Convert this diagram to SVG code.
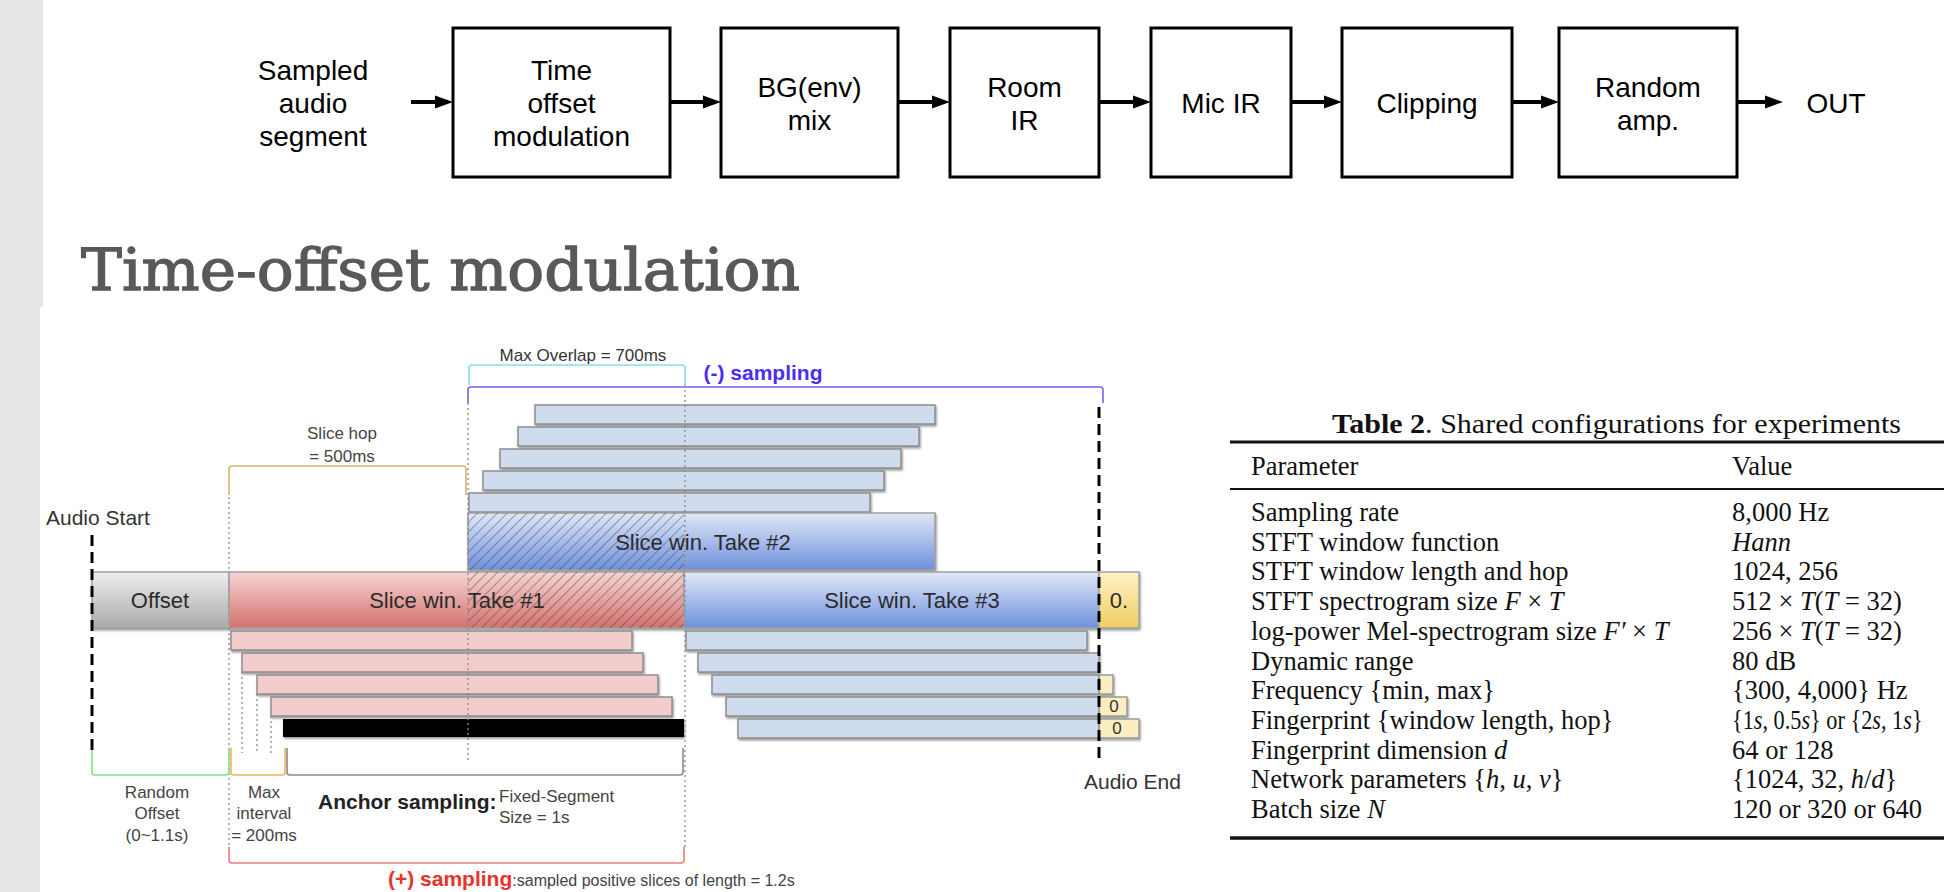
<svg xmlns="http://www.w3.org/2000/svg" width="1944" height="892" viewBox="0 0 1944 892">
  <style>
    .flow-box { fill: #fff; stroke: #000; stroke-width: 3; }
    .flow-txt { font-family: "Liberation Sans", Arial, sans-serif; font-size: 28px; fill: #000; text-anchor: middle; }
    .conn { stroke: #000; stroke-width: 4; fill: none; }
    .lbl { font-family: "Liberation Sans", Arial, sans-serif; fill: #333; }
    .bar-lbl { font-size: 22px; text-anchor: middle; fill: #2b2b2b; }
    .small { font-size: 17px; fill: #444; }
    .mid { text-anchor: middle; }
    .brk { fill: none; stroke-width: 1.6; }
    .dot { stroke: #8a8a8a; stroke-width: 1.3; stroke-dasharray: 2 3; fill: none; }
    .dash { stroke: #000; stroke-width: 3; stroke-dasharray: 11 6; fill: none; }
    .pink { fill: #f2cbcb; stroke: #8e8e8e; stroke-width: 1.5; }
    .lblue { fill: #cfdcee; stroke: #8e8e8e; stroke-width: 1.5; }
    .yel { fill: #fbeec0; stroke: #9a9a9a; stroke-width: 1.5; }
    .big { stroke: #a0a0a0; stroke-width: 1.5; }
    .tbl { font-family: "Liberation Serif", "Times New Roman", serif; font-size: 26.5px; fill: #111; }
    .it { font-style: italic; }
    .rule { stroke: #111; }
  </style>
  <defs>
    <marker id="arrowhead" markerUnits="userSpaceOnUse" markerWidth="18" markerHeight="14" refX="10" refY="7" orient="auto">
      <path d="M0,0.5 L18,7 L0,13.5 z" fill="#000"/>
    </marker>
    <linearGradient id="gOffset" x1="0" y1="0" x2="0" y2="1">
      <stop offset="0" stop-color="#efefef"/>
      <stop offset="1" stop-color="#a9a9a9"/>
    </linearGradient>
    <linearGradient id="gRed" x1="0" y1="0" x2="0" y2="1">
      <stop offset="0" stop-color="#f5d5d4"/>
      <stop offset="1" stop-color="#d4716e"/>
    </linearGradient>
    <linearGradient id="gBlue" x1="0" y1="0" x2="0" y2="1">
      <stop offset="0" stop-color="#e0e8f8"/>
      <stop offset="1" stop-color="#6e90dc"/>
    </linearGradient>
    <linearGradient id="gYel" x1="0" y1="0" x2="0" y2="1">
      <stop offset="0" stop-color="#fdf3c6"/>
      <stop offset="1" stop-color="#f1cd62"/>
    </linearGradient>
    <pattern id="hatch" patternUnits="userSpaceOnUse" width="7" height="7" patternTransform="rotate(45)">
      <line x1="0" y1="0" x2="0" y2="7" stroke="#3a3a3a" stroke-opacity="0.55" stroke-width="1.6"/>
    </pattern>
    <filter id="shadow" x="-5%" y="-30%" width="110%" height="170%">
      <feDropShadow dx="1" dy="1.8" stdDeviation="1" flood-color="#555" flood-opacity="0.6"/>
    </filter>
  </defs>

  <!-- page background and side strip -->
  <rect x="0" y="0" width="1944" height="892" fill="#fff"/>
  <rect x="0" y="0" width="43" height="307" fill="#e6e6e6"/>
  <rect x="0" y="307" width="40" height="585" fill="#e6e6e6"/>

  <!-- augmentation pipeline -->
  <g id="node-input">
    <text class="flow-txt" x="313" y="80">Sampled</text>
    <text class="flow-txt" x="313" y="113">audio</text>
    <text class="flow-txt" x="313" y="146">segment</text>
  </g>
  <g id="node-time-offset">
    <rect class="flow-box" x="453" y="28" width="217" height="149"/>
    <text class="flow-txt" x="561.5" y="80">Time</text>
    <text class="flow-txt" x="561.5" y="113">offset</text>
    <text class="flow-txt" x="561.5" y="146">modulation</text>
  </g>
  <g id="node-bg-mix">
    <rect class="flow-box" x="721" y="28" width="177" height="149"/>
    <text class="flow-txt" x="809.5" y="97">BG(env)</text>
    <text class="flow-txt" x="809.5" y="130">mix</text>
  </g>
  <g id="node-room-ir">
    <rect class="flow-box" x="950" y="28" width="149" height="149"/>
    <text class="flow-txt" x="1024.5" y="97">Room</text>
    <text class="flow-txt" x="1024.5" y="130">IR</text>
  </g>
  <g id="node-mic-ir">
    <rect class="flow-box" x="1151" y="28" width="140" height="149"/>
    <text class="flow-txt" x="1221" y="113">Mic IR</text>
  </g>
  <g id="node-clipping">
    <rect class="flow-box" x="1342" y="28" width="170" height="149"/>
    <text class="flow-txt" x="1427" y="113">Clipping</text>
  </g>
  <g id="node-random-amp">
    <rect class="flow-box" x="1559" y="28" width="178" height="149"/>
    <text class="flow-txt" x="1648" y="97">Random</text>
    <text class="flow-txt" x="1648" y="130">amp.</text>
  </g>
  <g id="node-out">
    <text class="flow-txt" x="1836" y="113">OUT</text>
  </g>
  <g id="connectors">
    <line class="conn" x1="411" y1="102" x2="445" y2="102" marker-end="url(#arrowhead)"/>
    <line class="conn" x1="670" y1="102" x2="713" y2="102" marker-end="url(#arrowhead)"/>
    <line class="conn" x1="898" y1="102" x2="942" y2="102" marker-end="url(#arrowhead)"/>
    <line class="conn" x1="1099" y1="102" x2="1143" y2="102" marker-end="url(#arrowhead)"/>
    <line class="conn" x1="1291" y1="102" x2="1334" y2="102" marker-end="url(#arrowhead)"/>
    <line class="conn" x1="1512" y1="102" x2="1551" y2="102" marker-end="url(#arrowhead)"/>
    <line class="conn" x1="1737" y1="102" x2="1775" y2="102" marker-end="url(#arrowhead)"/>
  </g>

  <!-- section heading -->
  <text x="81" y="290" font-family="'DejaVu Serif', 'Liberation Serif', serif" font-size="58" fill="#595959" stroke="#595959" stroke-width="1.3" textLength="719" lengthAdjust="spacingAndGlyphs">Time-offset modulation</text>

  <!-- time-offset sampling sketch -->
  <g id="offset-sketch">
    <!-- brackets above -->
    <path class="brk" stroke="#86e0ee" d="M469,385 L469,368 Q469,365 472,365 L682,365 Q685,365 685,368 L685,385"/>
    <path class="brk" stroke="#7462f0" stroke-width="2" d="M468,403 L468,390 Q468,387 471,387 L1100,387 Q1103,387 1103,390 L1103,403"/>
    <path class="brk" stroke="#d9b56c" d="M229,495 L229,469 Q229,466 232,466 L463,466 Q466,466 466,469 L466,495"/>
    <text class="lbl small mid" x="583" y="361" style="fill:#333">Max Overlap = 700ms</text>
    <text class="lbl mid" x="763" y="380" font-size="21" font-weight="bold" style="fill:#4a2ff0">(-) sampling</text>
    <text class="lbl small mid" x="342" y="439">Slice hop</text>
    <text class="lbl small mid" x="342" y="462">= 500ms</text>

    <!-- negative candidates above take #2 -->
    <g filter="url(#shadow)">
      <rect class="lblue" x="535" y="405" width="400" height="19"/>
      <rect class="lblue" x="518" y="427" width="401" height="19"/>
      <rect class="lblue" x="500" y="449" width="401" height="19"/>
      <rect class="lblue" x="483" y="471" width="401" height="19"/>
      <rect class="lblue" x="469" y="493" width="401" height="19"/>
    </g>

    <!-- slice windows -->
    <g filter="url(#shadow)">
      <rect class="big" x="468" y="513" width="467" height="57" fill="url(#gBlue)"/>
      <rect class="big" x="92" y="572" width="137" height="56" fill="url(#gOffset)"/>
      <rect class="big" x="229" y="572" width="455" height="56" fill="url(#gRed)"/>
      <rect class="big" x="684" y="572" width="415" height="56" fill="url(#gBlue)"/>
      <rect class="big" x="1099" y="572" width="40" height="56" fill="url(#gYel)"/>
    </g>
    <rect x="468" y="513" width="216" height="57" fill="url(#hatch)"/>
    <rect x="468" y="572" width="216" height="56" fill="url(#hatch)"/>
    <text class="lbl bar-lbl" x="160" y="608">Offset</text>
    <text class="lbl bar-lbl" x="457" y="608">Slice win. Take #1</text>
    <text class="lbl bar-lbl" x="703" y="550">Slice win. Take #2</text>
    <text class="lbl bar-lbl" x="912" y="608">Slice win. Take #3</text>
    <text class="lbl bar-lbl" x="1119" y="608">0.</text>

    <!-- positive candidates below take #1 -->
    <g filter="url(#shadow)">
      <rect class="pink" x="231" y="631" width="401" height="19"/>
      <rect class="pink" x="242" y="653" width="401" height="19"/>
      <rect class="pink" x="257" y="675" width="401" height="19"/>
      <rect class="pink" x="271" y="697" width="401" height="19"/>
      <rect x="283" y="719" width="401" height="18" fill="#000"/>
    </g>

    <!-- candidates below take #3 -->
    <g filter="url(#shadow)">
      <rect class="lblue" x="686" y="631" width="401" height="19"/>
      <rect class="lblue" x="698" y="653" width="401" height="19"/>
      <rect class="yel" x="1099" y="675" width="14" height="19"/>
      <rect class="lblue" x="712" y="675" width="387" height="19"/>
      <rect class="yel" x="1099" y="697" width="28" height="19"/>
      <rect class="lblue" x="726" y="697" width="373" height="19"/>
      <rect class="yel" x="1099" y="719" width="40" height="19"/>
      <rect class="lblue" x="738" y="719" width="361" height="19"/>
    </g>
    <text class="lbl small mid" x="1114" y="712" style="fill:#333">0</text>
    <text class="lbl small mid" x="1117" y="734" style="fill:#333">0</text>

    <!-- guides -->
    <line class="dot" x1="229" y1="497" x2="229" y2="572"/>
    <line class="dot" x1="229" y1="628" x2="229" y2="847"/>
    <line class="dot" x1="468" y1="388" x2="468" y2="760"/>
    <line class="dot" x1="685" y1="385" x2="685" y2="850"/>
    <line class="dot" x1="242" y1="672" x2="242" y2="753"/>
    <line class="dot" x1="257" y1="694" x2="257" y2="753"/>
    <line class="dot" x1="271" y1="716" x2="271" y2="753"/>
    <line class="dash" x1="92" y1="535" x2="92" y2="750"/>
    <line class="dash" x1="1099" y1="407" x2="1099" y2="763"/>
    <text class="lbl" x="46" y="525" font-size="21">Audio Start</text>
    <text class="lbl" x="1084" y="789" font-size="21">Audio End</text>

    <!-- brackets below -->
    <path class="brk" stroke="#7ee77e" d="M92,750 L92,772 Q92,775 95,775 L226,775 Q229,775 229,772 L229,748"/>
    <path class="brk" stroke="#f2b25e" d="M231,748 L231,772 Q231,775 234,775 L282,775 Q285,775 285,772 L285,748"/>
    <path class="brk" stroke="#8a8a8a" d="M287,748 L287,772 Q287,775 290,775 L680,775 Q683,775 683,772 L683,748"/>
    <path class="brk" stroke="#f07a7a" d="M229,847 L229,860 Q229,863 232,863 L681,863 Q684,863 684,860 L684,847"/>

    <text class="lbl small mid" x="157" y="798">Random</text>
    <text class="lbl small mid" x="157" y="819">Offset</text>
    <text class="lbl small mid" x="157" y="841">(0~1.1s)</text>
    <text class="lbl small mid" x="264" y="798">Max</text>
    <text class="lbl small mid" x="264" y="819">interval</text>
    <text class="lbl small mid" x="264" y="841">= 200ms</text>
    <text class="lbl" x="318" y="809" font-size="21" font-weight="bold" style="fill:#222">Anchor sampling:</text>
    <text class="lbl small" x="499" y="802">Fixed-Segment</text>
    <text class="lbl small" x="499" y="823">Size = 1s</text>
    <text class="lbl" x="388" y="886" font-size="21"><tspan font-weight="bold" style="fill:#e8332a">(+) sampling</tspan><tspan font-size="16" style="fill:#444">:sampled positive slices of length = 1.2s</tspan></text>
  </g>

  <!-- configuration table -->
  <g id="config-table">
    <text class="tbl" x="1332" y="433" font-size="30" textLength="569" lengthAdjust="spacingAndGlyphs"><tspan font-weight="bold">Table 2</tspan>. Shared configurations for experiments</text>
    <line class="rule" x1="1230" y1="442" x2="1944" y2="442" stroke-width="3"/>
    <text class="tbl" x="1251" y="475">Parameter</text>
    <text class="tbl" x="1732" y="475">Value</text>
    <line class="rule" x1="1230" y1="489" x2="1944" y2="489" stroke-width="2"/>

    <text class="tbl" x="1251" y="521">Sampling rate</text>
    <text class="tbl" x="1251" y="551">STFT window function</text>
    <text class="tbl" x="1251" y="580">STFT window length and hop</text>
    <text class="tbl" x="1251" y="610">STFT spectrogram size <tspan class="it">F</tspan> × <tspan class="it">T</tspan></text>
    <text class="tbl" x="1251" y="640">log-power Mel-spectrogram size <tspan class="it">F′</tspan> × <tspan class="it">T</tspan></text>
    <text class="tbl" x="1251" y="670">Dynamic range</text>
    <text class="tbl" x="1251" y="699">Frequency {min, max}</text>
    <text class="tbl" x="1251" y="729">Fingerprint {window length, hop}</text>
    <text class="tbl" x="1251" y="759">Fingerprint dimension <tspan class="it">d</tspan></text>
    <text class="tbl" x="1251" y="788">Network parameters {<tspan class="it">h</tspan>, <tspan class="it">u</tspan>, <tspan class="it">v</tspan>}</text>
    <text class="tbl" x="1251" y="818">Batch size <tspan class="it">N</tspan></text>

    <text class="tbl" x="1732" y="521">8,000 Hz</text>
    <text class="tbl it" x="1732" y="551">Hann</text>
    <text class="tbl" x="1732" y="580">1024, 256</text>
    <text class="tbl" x="1732" y="610">512 × <tspan class="it">T</tspan>(<tspan class="it">T</tspan> = 32)</text>
    <text class="tbl" x="1732" y="640">256 × <tspan class="it">T</tspan>(<tspan class="it">T</tspan> = 32)</text>
    <text class="tbl" x="1732" y="670">80 dB</text>
    <text class="tbl" x="1732" y="699">{300, 4,000} Hz</text>
    <text class="tbl" x="0" y="0" transform="translate(1732,729) scale(0.84,1)">{1<tspan class="it">s</tspan>, 0.5<tspan class="it">s</tspan>} or {2<tspan class="it">s</tspan>, 1<tspan class="it">s</tspan>}</text>
    <text class="tbl" x="1732" y="759">64 or 128</text>
    <text class="tbl" x="1732" y="788">{1024, 32, <tspan class="it">h</tspan>/<tspan class="it">d</tspan>}</text>
    <text class="tbl" x="1732" y="818">120 or 320 or 640</text>
    <line class="rule" x1="1230" y1="838" x2="1944" y2="838" stroke-width="3.5"/>
  </g>
</svg>
